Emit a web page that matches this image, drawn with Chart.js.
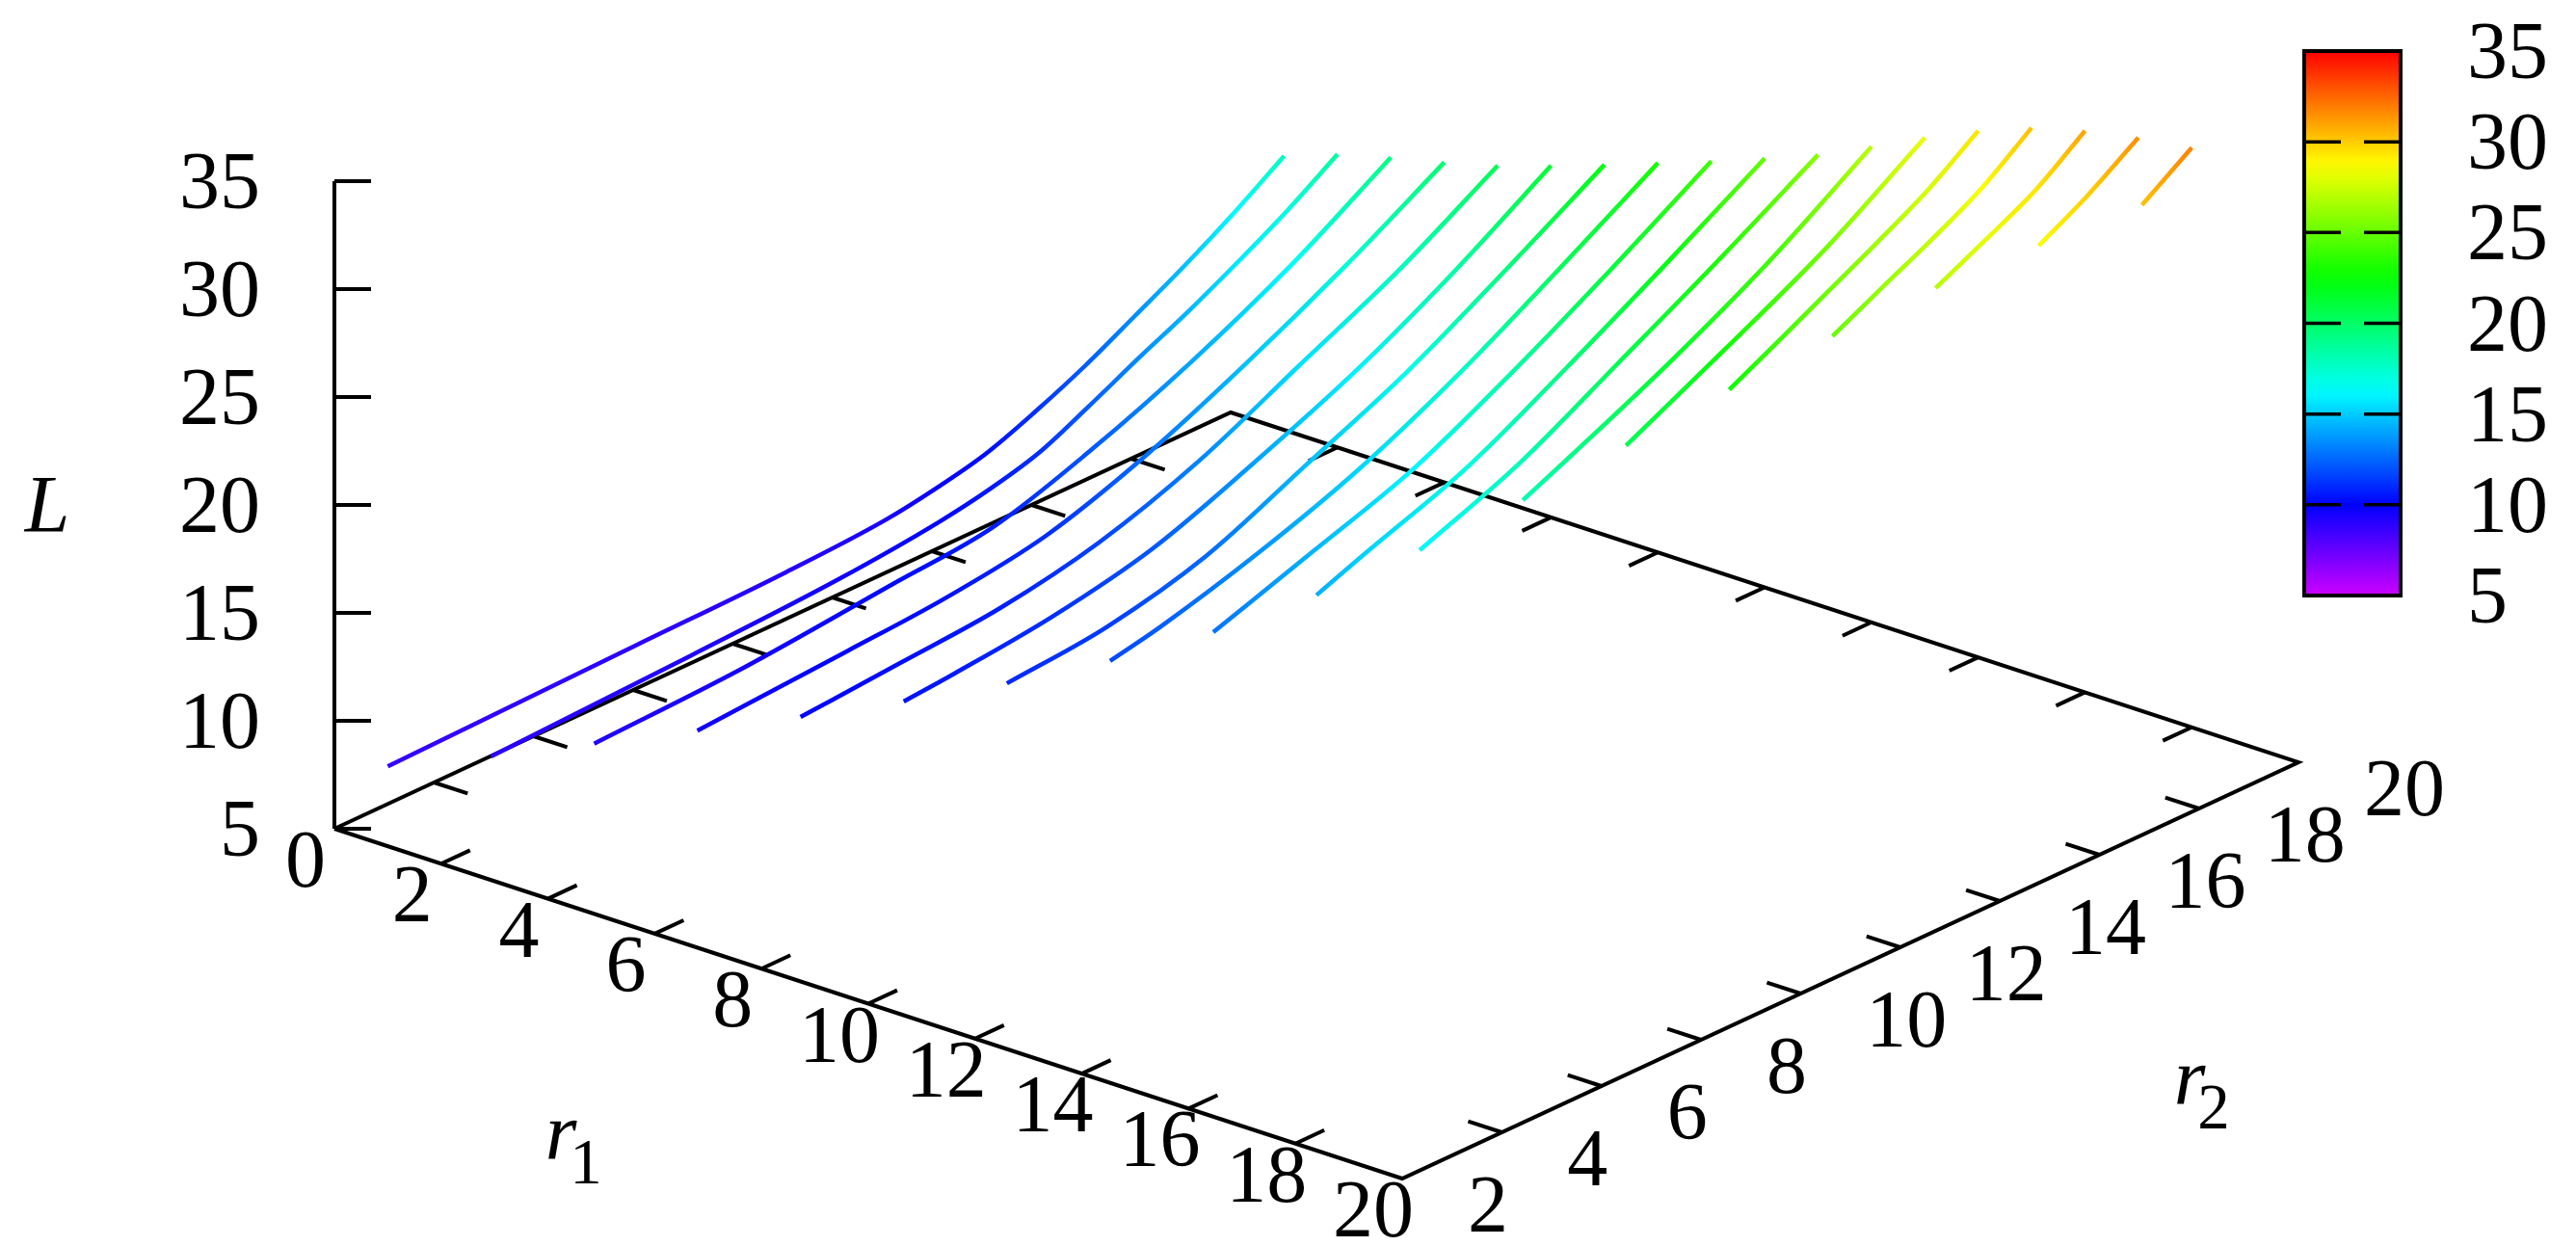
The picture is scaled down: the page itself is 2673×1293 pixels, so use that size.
<!DOCTYPE html>
<html>
<head>
<meta charset="utf-8">
<title>L over r1 and r2</title>
<script src="https://cdn.jsdelivr.net/npm/chart.js@4"></script>
<style>
    html, body { margin: 0; padding: 0; background: #fff; }
    canvas { display: block; }
</style>
</head>
<body>
<canvas id="surfaceChart" width="2673" height="1293"></canvas>
<script>
const r1Values = [1, 2, 3, 4, 5, 6, 7, 8, 9, 10, 11, 12, 13, 14, 15, 16, 17, 18];
const r2ByCurve = [
    [2, 7, 10, 12, 13, 14, 15, 16, 17, 18, 19, 20],
    [3, 7, 10, 12, 13, 14, 15, 16, 17, 18, 19, 20],
    [4, 7, 10, 12, 14, 16, 18, 20],
    [5, 8, 10, 12, 14, 16, 18, 20],
    [6, 8, 10, 12, 14, 16, 18, 20],
    [7, 8, 10, 12, 14, 16, 18, 20],
    [8, 10, 12, 14, 16, 18, 20],
    [9, 10, 12, 14, 16, 18, 20],
    [10, 12, 14, 16, 18, 20],
    [11, 12, 14, 16, 18, 20],
    [12, 14, 16, 18, 20],
    [13, 14, 16, 18, 20],
    [14, 16, 18, 20],
    [15, 16, 17, 18, 19, 20],
    [16, 17, 18, 19, 20],
    [17, 18, 19, 20],
    [18, 19, 20],
    [19, 20]
];
const lByCurve = [
    [8.7, 8.97, 9.13, 9.41, 9.78, 10.31, 11.2, 12.25, 13.49, 14.75, 16.15, 17.7],
    [8.9, 9.27, 9.63, 10.12, 10.54, 11.17, 12.25, 13.41, 14.51, 15.74, 17.07, 18.58],
    [9.23, 9.53, 10.2, 10.67, 12.16, 14.08, 16.41, 19.25],
    [9.57, 10.03, 10.38, 11.1, 12.66, 14.75, 17.14, 19.83],
    [9.94, 10.3, 10.69, 11.61, 13.23, 15.48, 17.75, 20.49],
    [10.4, 10.6, 11.14, 12.13, 13.89, 15.9, 18.4, 21.3],
    [10.98, 11.44, 12.59, 14.65, 16.76, 19.38, 22.15],
    [11.76, 12.25, 13.59, 15.29, 17.55, 20.23, 23.04],
    [12.83, 14.42, 16.07, 18.44, 21.1, 23.93],
    [14.28, 15.19, 16.94, 19.41, 22.08, 24.88],
    [16.1, 17.98, 20.52, 23.11, 25.85],
    [18.16, 19.22, 21.45, 24, 27.03],
    [20.43, 22.78, 25.25, 28.27],
    [22.76, 23.96, 25.2, 26.43, 27.75, 29.39],
    [24.97, 26.16, 27.32, 28.63, 30.34],
    [26.94, 28.1, 29.32, 31.01],
    [28.64, 29.95, 31.51],
    [30.27, 31.85]
];
const r1Ticks = [0, 2, 4, 6, 8, 10, 12, 14, 16, 18, 20];
const r2Ticks = [2, 4, 6, 8, 10, 12, 14, 16, 18, 20];
const lTicks = [5, 10, 15, 20, 25, 30, 35];

const FONT = '"Liberation Serif", "Times New Roman", serif';
const CAP_OFFSET = 28; // half of the digit height at 84px

// fixed view of the 3D box: parallel projection onto the page
function project(r1, r2, l) {
    return {
        x: 347 + 55.4 * r1 + 51.67 * (r2 - 2),
        y: 860 + 18.15 * r1 - 24 * (r2 - 2) - 22.4 * (l - 5)
    };
}

// rainbow palette, red at 35 and blue at 10
function paletteColor(l) {
    const hue = 60 * (35 - l) / 6.25;
    return 'hsl(' + hue + ', 100%, 50%)';
}

// colours a curve along its length from the L value at each read point
function curveGradient(ctx, points, ls) {
    const chart = ctx.chart;
    if (!chart.chartArea) return paletteColor(ls[0]);
    const xs = points.map(p => chart.scales.x.getPixelForValue(p.x));
    const first = xs[0];
    const last = xs[xs.length - 1];
    const gradient = chart.ctx.createLinearGradient(first, 0, last, 0);
    xs.forEach((x, j) => gradient.addColorStop((x - first) / (last - first), paletteColor(ls[j])));
    return gradient;
}

function blackLine(points) {
    return {
        data: points,
        showLine: true,
        borderColor: '#000',
        borderWidth: 4,
        pointRadius: 0,
        order: 2
    };
}

const datasets = [];

r1Values.forEach((r1, i) => {
    const ls = lByCurve[i];
    const points = r2ByCurve[i].map((r2, j) => project(r1, r2, ls[j]));
    datasets.push({
        data: points,
        showLine: true,
        borderWidth: 4.5,
        borderColor: ctx => curveGradient(ctx, points, ls),
        cubicInterpolationMode: 'monotone',
        pointRadius: 0,
        order: 1
    });
});

// base of the box
datasets.push(blackLine([
    project(0, 2, 5), project(20, 2, 5), project(20, 20, 5), project(0, 20, 5), project(0, 2, 5)
]));
// L axis
datasets.push(blackLine([project(0, 2, 5), project(0, 2, 35)]));

lTicks.forEach(l => {
    const p = project(0, 2, l);
    datasets.push(blackLine([p, { x: p.x + 38, y: p.y }]));
});
r1Ticks.slice(1, -1).forEach(r1 => {
    datasets.push(blackLine([project(r1, 2, 5), project(r1, 2.58, 5)]));
    datasets.push(blackLine([project(r1, 20, 5), project(r1, 19.42, 5)]));
});
r2Ticks.slice(1, -1).forEach(r2 => {
    datasets.push(blackLine([project(20, r2, 5), project(19.37, r2, 5)]));
    datasets.push(blackLine([project(0, r2, 5), project(0.63, r2, 5)]));
});

function drawText(ctx, text, x, y, size, italic, align) {
    ctx.font = (italic ? 'italic ' : '') + size + 'px ' + FONT;
    ctx.textAlign = align || 'left';
    ctx.textBaseline = 'alphabetic';
    ctx.fillStyle = '#000';
    ctx.fillText(text, x, y);
}

const annotationPlugin = {
    id: 'annotations',
    afterDatasetsDraw(chart) {
        const ctx = chart.ctx;
        const sx = chart.scales.x;
        const sy = chart.scales.y;
        ctx.save();

        // axis tick labels
        lTicks.forEach(l => {
            const p = project(0, 2, l);
            drawText(ctx, String(l), sx.getPixelForValue(p.x) - 77, sy.getPixelForValue(p.y) + CAP_OFFSET, 84, false, 'right');
        });
        r1Ticks.forEach(r1 => {
            const p = project(r1, 2, 5);
            drawText(ctx, String(r1), sx.getPixelForValue(p.x) - 30, sy.getPixelForValue(p.y) + 32 + CAP_OFFSET, 84, false, 'center');
        });
        r2Ticks.forEach(r2 => {
            const p = project(20, r2, 5);
            drawText(ctx, String(r2), sx.getPixelForValue(p.x) + 68, sy.getPixelForValue(p.y) + 27 + CAP_OFFSET, 84, false, 'left');
        });

        // axis titles
        drawText(ctx, 'L', 49, 552, 84, true, 'center');
        drawText(ctx, 'r', 582, 1203, 84, true, 'center');
        drawText(ctx, '1', 608, 1228, 67, false, 'center');
        drawText(ctx, 'r', 2272, 1146, 84, true, 'center');
        drawText(ctx, '2', 2297, 1171, 67, false, 'center');

        // colour box on the right
        const boxLeft = 2391, boxRight = 2491, boxTop = 53, boxBottom = 618;
        const boxY = l => boxBottom - (l - 5) * (boxBottom - boxTop) / 30;
        const gradient = ctx.createLinearGradient(0, boxBottom, 0, boxTop);
        for (let l = 5; l <= 35; l += 1) {
            gradient.addColorStop((l - 5) / 30, paletteColor(l));
        }
        ctx.fillStyle = gradient;
        ctx.fillRect(boxLeft, boxTop, boxRight - boxLeft, boxBottom - boxTop);
        ctx.strokeStyle = '#000';
        ctx.lineWidth = 4;
        ctx.strokeRect(boxLeft, boxTop, boxRight - boxLeft, boxBottom - boxTop);
        ctx.lineWidth = 3.5;
        lTicks.slice(1, -1).forEach(l => {
            ctx.beginPath();
            ctx.moveTo(boxLeft, boxY(l));
            ctx.lineTo(boxLeft + 38, boxY(l));
            ctx.moveTo(boxRight - 38, boxY(l));
            ctx.lineTo(boxRight, boxY(l));
            ctx.stroke();
        });
        lTicks.forEach(l => {
            drawText(ctx, String(l), 2560, boxY(l) + CAP_OFFSET, 84, false, 'left');
        });
        ctx.restore();
    }
};

new Chart(document.getElementById('surfaceChart'), {
    type: 'scatter',
    data: { datasets: datasets },
    options: {
        responsive: false,
        animation: false,
        devicePixelRatio: 1,
        layout: { padding: 0 },
        plugins: {
            legend: { display: false },
            tooltip: { enabled: false }
        },
        scales: {
            x: { type: 'linear', display: false, min: 0, max: 2673 },
            y: { type: 'linear', display: false, min: 0, max: 1293, reverse: true }
        }
    },
    plugins: [annotationPlugin]
});
</script>
</body>
</html>
